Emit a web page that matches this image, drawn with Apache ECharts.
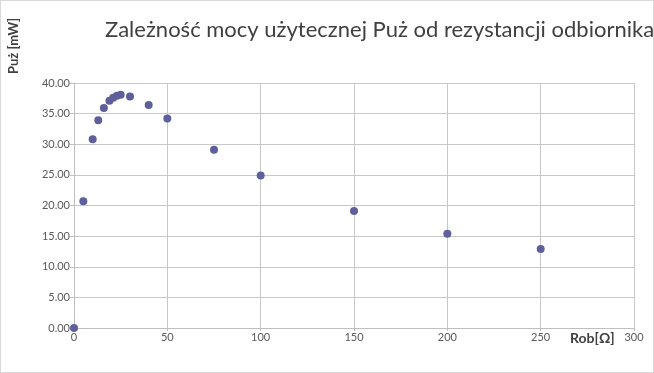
<!DOCTYPE html>
<html><head><meta charset="utf-8">
<script src="https://cdn.jsdelivr.net/npm/echarts@6/dist/echarts.min.js"></script>
<style>html,body{margin:0;padding:0;background:#fff}#c{width:654px;height:373px;box-sizing:border-box;border:1px solid #d9d9d9}</style>
</head><body><div id="c"></div>
<script>
const titleText = 'Zależność mocy użytecznej Puż od rezystancji odbiornika';
const xName = 'Rob[Ω]';
const yName = 'Puż [mW]';
const resistance = [0, 5, 10, 13, 16, 19, 21, 23, 25, 30, 40, 50, 75, 100, 150, 200, 250];
const power = [0, 20.7, 30.8, 33.9, 35.9, 37.1, 37.6, 37.9, 38.1, 37.8, 36.4, 34.2, 29.1, 24.9, 19.1, 15.4, 12.9];

const chart = echarts.init(document.getElementById('c'));
const font = 'Lato, "Open Sans", sans-serif';
chart.setOption({
  animation: false,
  textStyle: {fontFamily: font},
  grid: {left: 73, right: 19, top: 82, bottom: 44, containLabel: false},
  graphic: [
    {type: 'text', left: 104, top: 18, style: {text: titleText, fontSize: 22, fill: '#404040', fontFamily: font}},
    {type: 'text', x: 13, y: 73, rotation: Math.PI / 2, style: {text: yName, fontSize: 13, fontWeight: 'bold', fill: '#404040', fontFamily: font, align: 'left', verticalAlign: 'middle'}},
    {type: 'text', left: 569, top: 330, style: {text: xName, fontSize: 14, fontWeight: 'bold', fill: '#404040', fontFamily: font}}
  ],
  xAxis: {
    type: 'value', min: 0, max: 300, interval: 50,
    axisLine: {show: true, lineStyle: {color: '#bfbfbf'}},
    axisTick: {show: true, length: 3, lineStyle: {color: '#bfbfbf'}},
    axisLabel: {color: '#595959', fontSize: 11, margin: 4},
    splitLine: {show: true, lineStyle: {color: '#c8c8c8'}}
  },
  yAxis: {
    type: 'value', min: 0, max: 40, interval: 5,
    axisLine: {show: true, lineStyle: {color: '#bfbfbf'}},
    axisTick: {show: true, length: 4, lineStyle: {color: '#bfbfbf'}},
    axisLabel: {color: '#595959', fontSize: 11, margin: 4, formatter: v => v.toFixed(2)},
    splitLine: {show: true, lineStyle: {color: '#c8c8c8'}}
  },
  series: [{
    type: 'scatter',
    symbol: 'circle', symbolSize: 8,
    itemStyle: {color: '#5f5f9c', opacity: 1},
    data: resistance.map((r, i) => [r, power[i]])
  }]
});
</script></body></html>
